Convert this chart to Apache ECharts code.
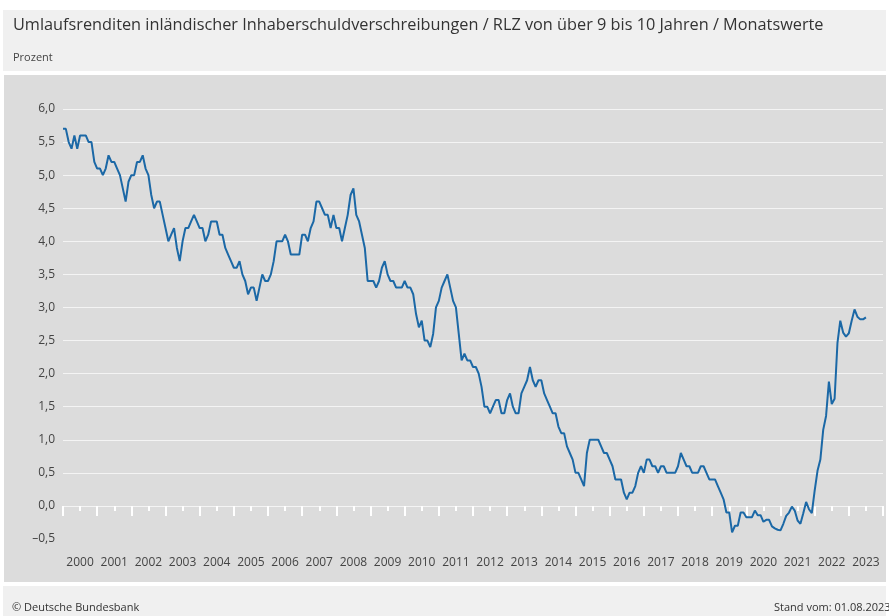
<!DOCTYPE html>
<html lang="de">
  <head>
    <meta charset="UTF-8" />
    <title>Umlaufsrenditen</title>
    <script src="https://cdn.jsdelivr.net/npm/echarts@6.0.0/dist/echarts.min.js"></script>
    <style>
      body {
        margin: 0;
        background: #ffffff;
        font-family: "Open Sans", "Noto Sans", sans-serif;
      }
      .box {
        position: absolute;
      }
      #header {
        left: 3px;
        top: 10px;
        width: 883px;
        height: 61px;
        background: #f0f0f0;
      }
      #panel {
        left: 4px;
        top: 75px;
        width: 882px;
        height: 507px;
        background: #dcdcdc;
      }
      #footer {
        left: 3px;
        top: 586px;
        width: 883px;
        height: 30px;
        background: #f0f0f0;
      }
      #main {
        position: absolute;
        left: 0;
        top: 0;
        width: 889px;
        height: 616px;
      }
    </style>
  </head>
  <body>
    <div class="box" id="header"></div>
    <div class="box" id="panel"></div>
    <div class="box" id="footer"></div>
    <div id="main"></div>

    <script>
      // Monatswerte in Prozent, Jan 2000 bis Jul 2023
      const values2000s = [
        5.7, 5.7, 5.5, 5.4, 5.6, 5.4, 5.6, 5.6, 5.6, 5.5, 5.5, 5.2,
        5.1, 5.1, 5.0, 5.1, 5.3, 5.2, 5.2, 5.1, 5.0, 4.8, 4.6, 4.9,
        5.0, 5.0, 5.2, 5.2, 5.3, 5.1, 5.0, 4.7, 4.5, 4.6, 4.6, 4.4,
        4.2, 4.0, 4.1, 4.2, 3.9, 3.7, 4.0, 4.2, 4.2, 4.3, 4.4, 4.3,
        4.2, 4.2, 4.0, 4.1, 4.3, 4.3, 4.3, 4.1, 4.1, 3.9, 3.8, 3.7,
        3.6, 3.6, 3.7, 3.5, 3.4, 3.2, 3.3, 3.3, 3.1, 3.3, 3.5, 3.4,
        3.4, 3.5, 3.7, 4.0, 4.0, 4.0, 4.1, 4.0, 3.8, 3.8, 3.8, 3.8,
        4.1, 4.1, 4.0, 4.2, 4.3, 4.6, 4.6, 4.5, 4.4, 4.4, 4.2, 4.4,
        4.2, 4.2, 4.0, 4.2, 4.4, 4.7, 4.8, 4.4, 4.3, 4.1, 3.9, 3.4,
        3.4, 3.4, 3.3, 3.4, 3.6, 3.7, 3.5, 3.4, 3.4, 3.3, 3.3, 3.3,
      ];
      const values2010s = [
        3.4, 3.3, 3.3, 3.2, 2.9, 2.7, 2.8, 2.5, 2.5, 2.4, 2.6, 3.0,
        3.1, 3.3, 3.4, 3.5, 3.3, 3.1, 3.0, 2.6, 2.2, 2.3, 2.2, 2.2,
        2.1, 2.1, 2.0, 1.8, 1.5, 1.5, 1.4, 1.5, 1.6, 1.6, 1.4, 1.4,
        1.6, 1.7, 1.5, 1.4, 1.4, 1.7, 1.8, 1.9, 2.1, 1.9, 1.8, 1.9,
        1.9, 1.7, 1.6, 1.5, 1.4, 1.4, 1.2, 1.1, 1.1, 0.9, 0.8, 0.7,
        0.5, 0.5, 0.4, 0.3, 0.8, 1.0, 1.0, 1.0, 1.0, 0.9, 0.8, 0.8,
        0.7, 0.6, 0.4, 0.4, 0.4, 0.2, 0.1, 0.2, 0.2, 0.3, 0.5, 0.6,
        0.5, 0.7, 0.7, 0.6, 0.6, 0.5, 0.6, 0.6, 0.5, 0.5, 0.5, 0.5,
        0.6, 0.8, 0.7, 0.6, 0.6, 0.5, 0.5, 0.5, 0.6, 0.6, 0.5, 0.4,
        0.4, 0.4, 0.3, 0.2, 0.1, -0.1, -0.1, -0.4, -0.3, -0.3, -0.1, -0.1,
      ];
      const values2020s = [
        -0.17, -0.17, -0.17, -0.07, -0.14, -0.14, -0.24, -0.21, -0.21, -0.31, -0.34, -0.36,
        -0.37, -0.27, -0.15, -0.1, -0.01, -0.07, -0.22, -0.27, -0.11, 0.06, -0.05, -0.11,
        0.23, 0.53, 0.7, 1.15, 1.36, 1.88, 1.54, 1.62, 2.46, 2.8, 2.62, 2.56,
        2.61, 2.8, 2.97, 2.86, 2.82, 2.82, 2.85,
      ];
      const startYear = 2000;
      const yearLabels = [
        2000, 2001, 2002, 2003, 2004, 2005, 2006, 2007, 2008, 2009, 2010, 2011,
        2012, 2013, 2014, 2015, 2016, 2017, 2018, 2019, 2020, 2021, 2022, 2023,
      ];

      const values = values2000s.concat(values2010s, values2020s);
      const points = values.map((v, i) => [startYear + i / 12, v]);

      const chart = echarts.init(document.getElementById("main"));
      const option = {
        animation: false,
        textStyle: { fontFamily: "Open Sans" },
        title: [
          {
            text: "Umlaufsrenditen inländischer Inhaberschuldverschreibungen / RLZ von über 9 bis 10 Jahren / Monatswerte",
            left: 8,
            top: 12,
            textStyle: { fontSize: 16.3, fontWeight: "normal", color: "#333" },
          },
          {
            text: "Prozent",
            left: 8,
            top: 47,
            textStyle: { fontSize: 11, fontWeight: "normal", color: "#444" },
          },
          {
            text: "© Deutsche Bundesbank",
            left: 7,
            top: 597,
            textStyle: { fontSize: 11, fontWeight: "normal", color: "#333" },
          },
          {
            text: "Stand vom: 01.08.2023",
            left: 769,
            top: 597,
            textStyle: { fontSize: 11, fontWeight: "normal", color: "#333" },
          },
        ],
        grid: { left: 63, right: 6, top: 109, bottom: 77 },
        xAxis: {
          type: "value",
          min: 2000,
          max: 2024,
          interval: 1,
          axisLine: { show: false },
          axisTick: {
            show: true,
            length: 10,
            lineStyle: { color: "#ffffff", width: 2 },
          },
          minorTick: {
            show: true,
            splitNumber: 2,
            length: 5,
            lineStyle: { color: "#ffffff", width: 2 },
          },
          splitLine: { show: false },
          axisLabel: {
            customValues: yearLabels.map((y) => y + 0.5),
            formatter: (v) => String(Math.floor(v)),
            margin: 18,
            fontSize: 12,
            color: "#444",
          },
        },
        yAxis: {
          type: "value",
          min: -0.5,
          max: 6,
          interval: 0.5,
          axisLine: { show: false },
          axisTick: { show: false },
          splitLine: {
            show: true,
            showMinLine: false,
            lineStyle: { color: "#f4f4f4", width: 1 },
          },
          axisLabel: {
            margin: 8,
            fontSize: 12,
            color: "#444",
            formatter: (v) => v.toFixed(1).replace(".", ",").replace("-", "–"),
          },
        },
        series: [
          {
            type: "line",
            data: points,
            showSymbol: false,
            lineStyle: { color: "#1b68a6", width: 2 },
          },
        ],
      };
      chart.setOption(option);
    </script>
  </body>
</html>
